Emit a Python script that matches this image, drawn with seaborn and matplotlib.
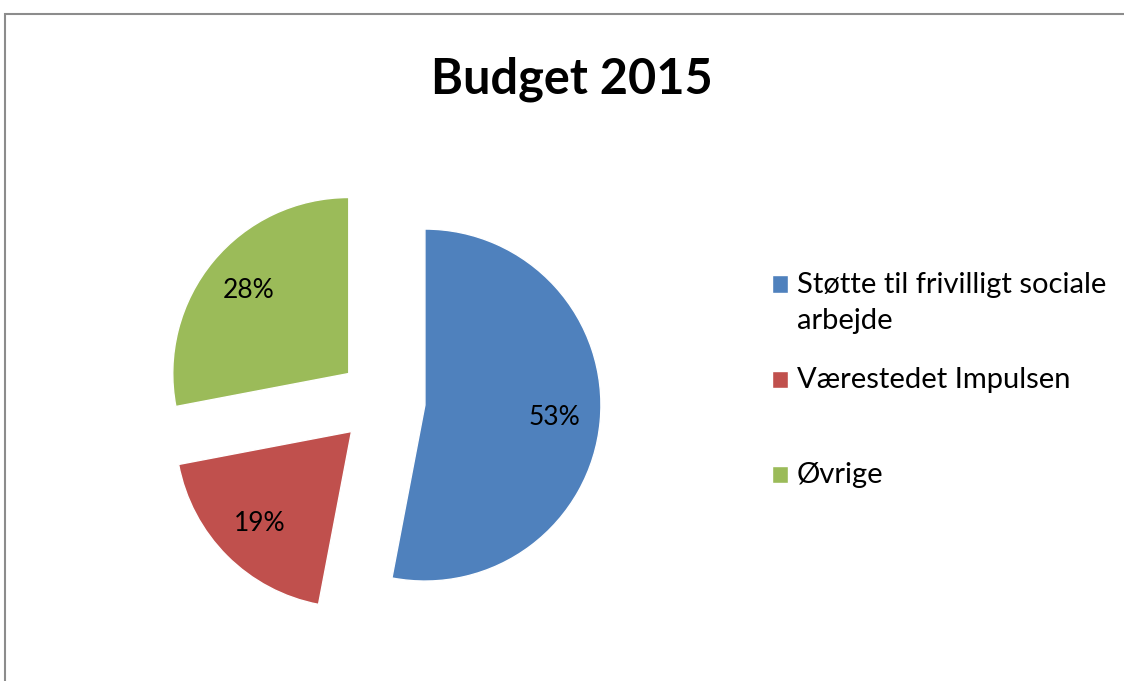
import matplotlib.pyplot as plt
import matplotlib.patches as mpatches
import seaborn as sns

sns.set_theme(style="white")
plt.rcParams['font.family'] = ['Lato', 'DejaVu Sans']
plt.rcParams['text.color'] = 'black'

# data
labels = ['Støtte til frivilligt sociale\narbejde', 'Værestedet Impulsen', 'Øvrige']
values = [53, 19, 28]
colors = sns.color_palette(['#4F81BD', '#C0504D', '#9BBB59'])

W, H = 1124, 681
fig = plt.figure(figsize=(W / 100, H / 100), dpi=100)
fig.patch.set_facecolor('white')

# pie centre at (382, 401) px, radius 176 px
r_px = 176
half = 1.5
side = 2 * half * r_px
ax = fig.add_axes([(382 - side / 2) / W, (H - 401 - side / 2) / H, side / W, side / H])

wedges, texts, autotexts = ax.pie(
    values, colors=colors, startangle=90, counterclock=False,
    explode=[0.245] * len(values), autopct='%1.0f%%', pctdistance=0.74,
    textprops={'fontsize': 19, 'color': 'black'})
ax.set_xlim(-half, half)
ax.set_ylim(-half, half)
ax.set_aspect('equal')
ax.axis('off')

fig.text(572 / W, 1 - 93 / H, 'Budget 2015', ha='center', va='baseline',
         fontsize=35, fontweight='bold', color='black')

# Excel gives every legend entry the same two-line slot
fs = 21
ls = 1.46
leg_labels = [l if '\n' in l else l + '\n' for l in labels]
leg = fig.legend(wedges, leg_labels, loc='upper left', bbox_to_anchor=(772 / W, 1 - 272 / H),
                 frameon=False, fontsize=fs, handlelength=0.55, handleheight=0.55,
                 handletextpad=0.3, labelspacing=1.15, borderpad=0, borderaxespad=0)
for t in leg.get_texts():
    t.set_linespacing(ls)
    t.set_color('black')
# marker next to the first line of each entry
for h in leg.legend_handles:
    h.set_y(h.get_y() + 13.5)

# chart border (Excel-like, cut off at right and bottom)
fig.add_artist(mpatches.Rectangle((5 / W, -0.1), 1.2, 1.1 - 14 / H,
                                  transform=fig.transFigure, fill=False,
                                  edgecolor='#8c8c8c', linewidth=1.5))

fig.savefig('out.png', dpi=100)
